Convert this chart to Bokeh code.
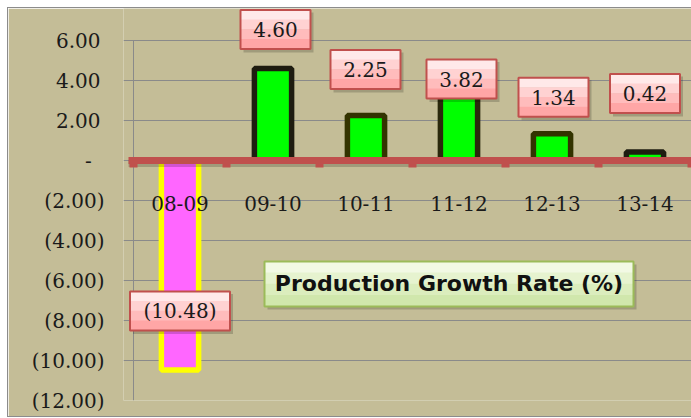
from bokeh.plotting import figure
from bokeh.models import Range1d, FixedTicker, ColumnDataSource
from bokeh.core.properties import value
from bokeh.embed import file_html
from bokeh.resources import INLINE

# ---- data ----
categories = ["08-09", "09-10", "10-11", "11-12", "12-13", "13-14"]
growth = [-10.48, 4.60, 2.25, 3.82, 1.34, 0.42]
y_ticks = [6, 4, 2, 0, -2, -4, -6, -8, -10, -12]
y_tick_labels = ["6.00", "4.00", "2.00", "-", "(2.00)", "(4.00)",
                 "(6.00)", "(8.00)", "(10.00)", "(12.00)"]
title_text = "Production Growth Rate (%)"

# ---- styles ----
bar_fill = ["#FF66FF"] + ["#00FF00"] * 5
bar_line = ["#FFFF00", "#1E1C10", "#333300", "#2A280C", "#333300", "#1E1C10"]
label_dy_px = [59, 39, 46, 5, 36.5, 58.6]     # label centre offset toward zero/up
label_dx_px = [0, 2.5, -0.5, 2.5, 1.5, 0]
BG = "#C4BD97"
GRID = "#8A8A8A"
RED = "#C0504D"
SERIF = "DejaVu Serif"
PINK_BANDS = ["#FFE9E9", "#FFD2D2", "#FFBCBC", "#FFA6A6"]
GREEN_BANDS = ["#F2F9E4", "#E6F3CF", "#DBEDBD", "#D0E7AC"]

PX_X = 93.0
PX_Y = 20.0
W, H = 683, 408
B_LEFT, B_BOTTOM = 115, 16

n = len(categories)
x_start = -10 / PX_X
y_top = 7.6
y_bottom = -12

p = figure(width=W, height=H, output_backend="svg", toolbar_location=None,
           x_axis_location=None, y_axis_location="left",
           x_range=Range1d(x_start, n), y_range=Range1d(y_bottom, y_top),
           min_border_left=B_LEFT, min_border_right=0, min_border_top=0,
           min_border_bottom=B_BOTTOM)
p.margin = (8, 0, 0, 8)
p.background_fill_color = BG
p.border_fill_color = BG
p.outline_line_color = None
p.styles = {"outline": "1px solid #8C8C8C", "outline-offset": "0px"}

p.xgrid.visible = False
p.ygrid.ticker = FixedTicker(ticks=y_ticks)
p.ygrid.grid_line_color = GRID
p.ygrid.grid_line_width = 1


# accounting-style alignment padding (display only)
def acct(lbl):
    if lbl == "-":
        return lbl + "\u2007"
    if lbl.startswith("("):
        return lbl
    return lbl + "\u2009"


ax = p.yaxis[0]
ax.ticker = FixedTicker(ticks=y_ticks)
ax.major_label_overrides = {t: acct(l) for t, l in zip(y_ticks, y_tick_labels)}
ax.axis_line_color = None
ax.major_tick_line_color = None
ax.minor_tick_line_color = None
ax.major_tick_out = 0
ax.major_tick_in = 0
ax.major_label_standoff = 19
ax.major_label_text_align = "right"
ax.major_label_text_font = SERIF
ax.major_label_text_font_size = "20px"
ax.major_label_text_color = "#1A1A1A"

# vertical axis line
p.segment(x0=[0], y0=[y_bottom], x1=[0], y1=[max(y_ticks)],
          line_color=GRID, line_width=1)

xs = [i + 0.5 for i in range(n)]
src = ColumnDataSource(dict(x=xs, top=growth, fill=bar_fill, line=bar_line))
p.vbar(x="x", top="top", bottom=0, width=0.4, source=src,
       fill_color="fill", line_color="line", line_width=5.5)

# zero line with shadow and tick marks
p.segment(x0=[-5 / PX_X], y0=[-3 / PX_Y], x1=[n + 0.2], y1=[-3 / PX_Y],
          line_color="black", line_alpha=0.18, line_width=7)
p.segment(x0=[-5 / PX_X], y0=[0], x1=[n + 0.2], y1=[0],
          line_color=RED, line_width=7)
tick_x = [float(k) for k in range(n + 1)]
p.segment(x0=tick_x, y0=[0] * len(tick_x), x1=tick_x, y1=[-7 / PX_Y] * len(tick_x),
          line_color=RED, line_width=8)

# category labels
p.text(x=xs, y=[-2.15] * n, text=categories, text_align="center",
       text_baseline="middle", text_font=value(SERIF), text_font_size="20px",
       text_color="#1A1A1A")

# data labels
def fmt(v):
    return f"({abs(v):.2f})" if v < 0 else f"{v:.2f}"

LBL_H = 39
lab_txt = [fmt(v) for v in growth]
lab_x = [x + dx / PX_X for x, dx in zip(xs, label_dx_px)]
lab_y = [v + (dy / PX_Y) for v, dy in zip(growth, label_dy_px)]
lab_w = [30 + 10 * len(t) for t in lab_txt]
lsrc = ColumnDataSource(dict(x=lab_x, y=lab_y, t=lab_txt, w=lab_w,
                             sx=[x + 3 / PX_X for x in lab_x],
                             sy=[y - 3 / PX_Y for y in lab_y]))
p.rect(x="sx", y="sy", width="w", height=LBL_H + 1, width_units="screen",
       height_units="screen", source=lsrc, fill_color="black", fill_alpha=0.18,
       line_color=None)
band_h = LBL_H / len(PINK_BANDS)
for k, col in enumerate(PINK_BANDS):
    off = (LBL_H / 2 - band_h * (k + 0.5)) / PX_Y
    p.rect(x=lab_x, y=[y + off for y in lab_y], width=lab_w, height=band_h + 0.6,
           width_units="screen", height_units="screen", fill_color=col,
           line_color=None)
p.rect(x="x", y="y", width="w", height=LBL_H, width_units="screen",
       height_units="screen", source=lsrc, fill_color=None,
       line_color=RED, line_width=2)
p.text(x="x", y="y", text="t", source=lsrc, text_align="center",
       text_baseline="middle", text_font=value(SERIF), text_font_size="20px",
       text_color="#1A1A1A")

# title box
tx = (448.5 - 133) / PX_X
ty = -(283.5 - 160) / PX_Y
TW, TH = 369, 45
p.rect(x=[tx + 3 / PX_X], y=[ty - 3 / PX_Y], width=TW, height=TH,
       width_units="screen", height_units="screen", fill_color="black",
       fill_alpha=0.18, line_color=None)
tb_h = TH / len(GREEN_BANDS)
for k, col in enumerate(GREEN_BANDS):
    off = (TH / 2 - tb_h * (k + 0.5)) / PX_Y
    p.rect(x=[tx], y=[ty + off], width=TW, height=tb_h + 0.6,
           width_units="screen", height_units="screen", fill_color=col,
           line_color=None)
p.rect(x=[tx], y=[ty], width=TW, height=TH, width_units="screen",
       height_units="screen", fill_color=None, line_color="#9BBB59",
       line_width=2)
p.text(x=[tx], y=[ty + 1 / PX_Y], text=[title_text], text_align="center",
       text_baseline="middle", text_font=value("DejaVu Sans"), text_font_style="bold",
       text_font_size="22px", text_color="#111111")

open("out.html", "w").write(file_html(p, INLINE))
